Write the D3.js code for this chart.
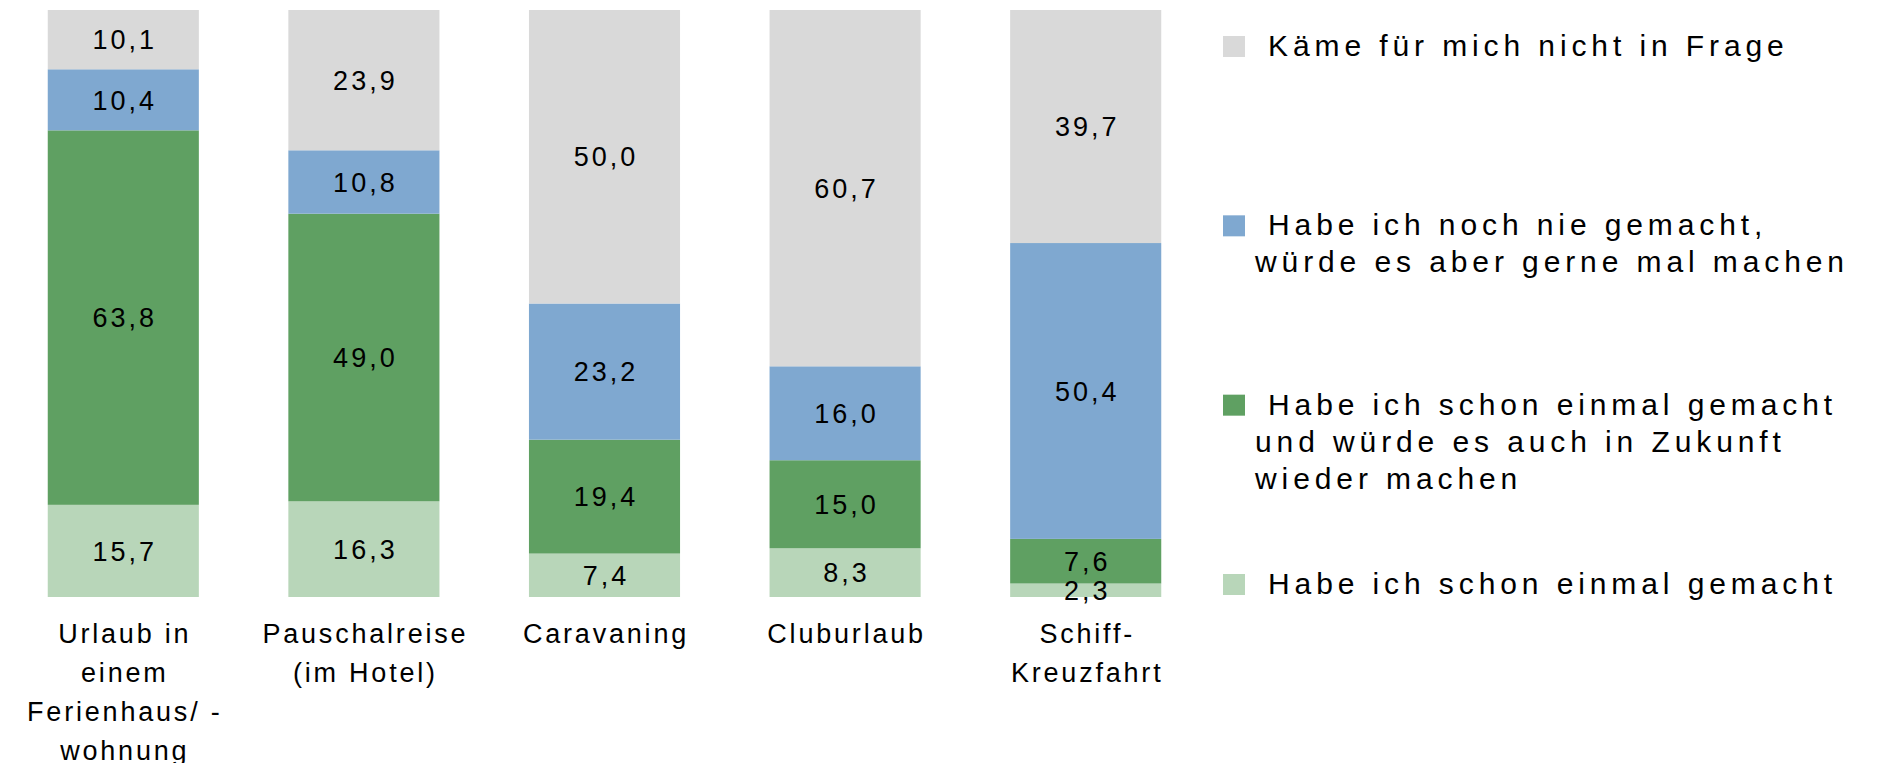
<!DOCTYPE html>
<html>
<head>
<meta charset="utf-8">
<script src="https://cdn.jsdelivr.net/npm/d3@7"></script>
<style>
  body { margin: 0; background: #fff; }
  text { font-family: "Liberation Sans", Arial, sans-serif; fill: #000; }
</style>
</head>
<body>
<div id="chart"></div>
<script>
;(function (window, document, undefined) {

  'use strict';

  // categories (x axis), one label line per entry
  var categories = ['Ferienhaus', 'Pauschalreise', 'Caravaning', 'Cluburlaub', 'Schiff'];
  var categoryLines = [
    ['Urlaub in', 'einem', 'Ferienhaus/ -', 'wohnung'],
    ['Pauschalreise', '(im Hotel)'],
    ['Caravaning'],
    ['Cluburlaub'],
    ['Schiff-', 'Kreuzfahrt']
  ];

  // series values in %, bottom to top of each bar
  var einmalGemacht  = [15.7, 16.3, 7.4, 8.3, 2.3];
  var wiederMachen   = [63.8, 49.0, 19.4, 15.0, 7.6];
  var nieGemacht     = [10.4, 10.8, 23.2, 16.0, 50.4];
  var nichtInFrage   = [10.1, 23.9, 50.0, 60.7, 39.7];

  var seriesKeys = ['einmal', 'wieder', 'nie', 'nicht'];
  var seriesColors = ['#b8d6b9', '#5fa062', '#7fa8d0', '#d9d9d9'];
  var legendLines = [
    ['Habe ich schon einmal gemacht'],
    ['Habe ich schon einmal gemacht', 'und würde es auch in Zukunft', 'wieder machen'],
    ['Habe ich noch nie gemacht,', 'würde es aber gerne mal machen'],
    ['Käme für mich nicht in Frage']
  ];

  var width = 1878, height = 763;

  var rows = categories.map(function (c, i) {
    return {
      cat: c,
      einmal: einmalGemacht[i],
      wieder: wiederMachen[i],
      nie: nieGemacht[i],
      nicht: nichtInFrage[i]
    };
  });

  var stacked = d3.stack().keys(seriesKeys)(rows);

  var x = d3.scaleBand()
            .domain(categories)
            .range([3, 1206])
            .paddingInner(0.372)
            .paddingOuter(0.186);

  var y = d3.scaleLinear()
            .domain([0, 100])
            .range([597, 10]);

  var color = d3.scaleOrdinal().domain(seriesKeys).range(seriesColors);

  var fmt = function (v) { return d3.format('.1f')(v).replace('.', ','); };

  var svg = d3.select('#chart').append('svg')
              .attr('width', width)
              .attr('height', height);

  var layer = svg.selectAll('g.layer')
                 .data(stacked)
                 .enter().append('g')
                 .attr('class', 'layer')
                 .attr('fill', function (d) { return color(d.key); });

  layer.selectAll('rect')
       .data(function (d) { return d; })
       .enter().append('rect')
       .attr('x', function (d) { return x(d.data.cat); })
       .attr('width', x.bandwidth())
       .attr('y', function (d) { return y(d[1]); })
       .attr('height', function (d) { return y(d[0]) - y(d[1]); });

  // value labels, centred in each segment
  var labels = svg.append('g');
  stacked.forEach(function (s) {
    labels.selectAll(null)
          .data(s)
          .enter().append('text')
          .attr('x', function (d) { return x(d.data.cat) + x.bandwidth() / 2 + 1.5; })
          .attr('y', function (d) { return (y(d[0]) + y(d[1])) / 2; })
          .attr('dy', '0.36em')
          .attr('text-anchor', 'middle')
          .style('font-size', '27px')
          .style('letter-spacing', '3px')
          .text(function (d) { return fmt(d[1] - d[0]); });
  });

  // category labels
  var xAxis = svg.append('g');
  categories.forEach(function (c, i) {
    var t = xAxis.append('text')
                 .attr('text-anchor', 'middle')
                 .style('font-size', '27px')
                 .style('letter-spacing', '2.8px');
    categoryLines[i].forEach(function (line, j) {
      t.append('tspan')
       .attr('x', x(c) + x.bandwidth() / 2 + 1.5)
       .attr('y', 643 + j * 39)
       .text(line);
    });
  });

  // legend, top item is the top series
  var legendOrder = seriesKeys.slice().reverse();
  var ly = d3.scalePoint().domain(legendOrder).range([56, 594]);

  var legend = svg.append('g')
                  .selectAll('g')
                  .data(legendOrder)
                  .enter().append('g');

  legend.append('rect')
        .attr('x', 1223)
        .attr('y', function (k) { return ly(k) - 20; })
        .attr('width', 22)
        .attr('height', 21)
        .attr('fill', function (k) { return color(k); });

  legend.append('text')
        .style('font-size', '30px')
        .style('letter-spacing', '4.9px')
        .each(function (k) {
          var t = d3.select(this);
          legendLines[seriesKeys.indexOf(k)].forEach(function (line, j) {
            t.append('tspan')
             .attr('x', j === 0 ? 1268 : 1255)
             .attr('y', ly(k) + j * 37)
             .text(line);
          });
        });

})(window, document);
</script>
</body>
</html>
